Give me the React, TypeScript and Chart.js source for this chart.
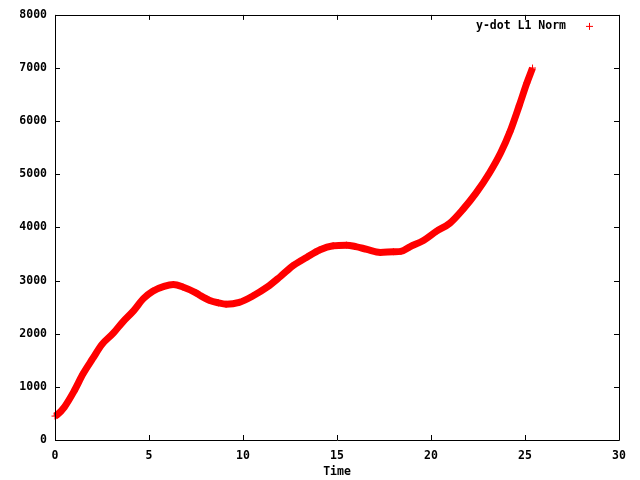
import React, { useEffect, useRef } from "react";
import { Chart, registerables } from "chart.js";

Chart.register(...registerables);

const seriesLabel = "y-dot L1 Norm";
const xTitle = "Time";
const times = [0, 0.1, 0.5, 1.0, 1.5, 2.0, 2.5, 3.1, 3.6, 4.2, 4.7, 5.2, 5.8, 6.3, 6.8, 7.5, 7.7, 8.2, 8.7, 9.1, 9.8, 10.5, 11.3, 12.0, 12.7, 13.4, 14.1, 14.8, 15.5, 16.0, 16.6, 17.3, 18.0, 18.4, 18.9, 19.6, 20.3, 21.0, 21.7, 22.4, 23.1, 23.7, 24.2, 24.7, 25.1, 25.4];
const values = [450, 470, 620, 910, 1250, 1530, 1800, 2010, 2220, 2440, 2660, 2800, 2890, 2925, 2880, 2770, 2725, 2630, 2580, 2556, 2590, 2706, 2880, 3080, 3290, 3440, 3580, 3655, 3667, 3640, 3586, 3530, 3543, 3550, 3640, 3755, 3930, 4080, 4340, 4650, 5020, 5400, 5800, 6300, 6720, 7000];
const xTicks = [0, 5, 10, 15, 20, 25, 30];
const yTicks = [0, 1000, 2000, 3000, 4000, 5000, 6000, 7000, 8000];

const FONT = "'DejaVu Sans Mono', monospace";

const framePlugin = {
  id: "frame",
  afterDraw(chart: any) {
    const ctx = chart.ctx;
    const { left, right, top, bottom } = chart.chartArea;
    const tl = 5;
    ctx.save();
    ctx.strokeStyle = "#000";
    ctx.lineWidth = 1;
    ctx.beginPath();
    ctx.rect(Math.round(left) + 0.5, Math.round(top) + 0.5, Math.round(right - left), Math.round(bottom - top));
    ctx.stroke();
    const xs = chart.scales.x;
    const ys = chart.scales.y;
    ctx.beginPath();
    xTicks.forEach((v) => {
      const px = Math.round(xs.getPixelForValue(v)) + 0.5;
      ctx.moveTo(px, bottom);
      ctx.lineTo(px, bottom - tl);
      ctx.moveTo(px, top);
      ctx.lineTo(px, top + tl);
    });
    yTicks.forEach((v) => {
      const py = Math.round(ys.getPixelForValue(v)) + 0.5;
      ctx.moveTo(left, py);
      ctx.lineTo(left + tl, py);
      ctx.moveTo(right, py);
      ctx.lineTo(right - tl, py);
    });
    ctx.stroke();
    // legend (gnuplot style: text then sample)
    const ly = top + 11;
    const textRight = right - 53;
    ctx.font = "bold 11.5px " + FONT;
    ctx.fillStyle = "#000";
    ctx.textAlign = "right";
    ctx.textBaseline = "middle";
    ctx.fillText(chart.data.datasets[0].label, textRight, ly);
    const cx = right - 29.5;
    ctx.strokeStyle = "#ff0000";
    ctx.beginPath();
    ctx.moveTo(cx - 3.5, ly + 0.5);
    ctx.lineTo(cx + 3.5, ly + 0.5);
    ctx.moveTo(cx, ly - 3);
    ctx.lineTo(cx, ly + 4);
    ctx.stroke();
    ctx.restore();
  },
};

export default function App() {
  const ref = useRef<HTMLCanvasElement | null>(null);
  useEffect(() => {
    if (!ref.current) return;
    const chart = new Chart(ref.current, {
      type: "line",
      data: {
        datasets: [
          {
            label: seriesLabel,
            data: times.map((t, i) => ({ x: t, y: values[i] })),
            borderColor: "#ff0000",
            backgroundColor: "#ff0000",
            borderWidth: 7,
            pointStyle: "cross",
            pointRadius: 3.5,
            pointBorderWidth: 1,
            pointBorderColor: "#ff0000",
            cubicInterpolationMode: "monotone",
            clip: 6,
          } as any,
        ],
      },
      options: {
        responsive: false,
        animation: false,
        layout: { padding: { top: 13, right: 21, left: 0, bottom: 0 } },
        plugins: { legend: { display: false }, tooltip: { enabled: false } },
        scales: {
          x: {
            type: "linear",
            min: 0,
            max: 30,
            afterBuildTicks: (s: any) => {
              s.ticks = xTicks.map((v) => ({ value: v }));
            },
            afterFit: (s: any) => {
              s.height = 40;
            },
            grid: { display: false, drawTicks: false },
            border: { display: false },
            ticks: {
              padding: 9,
              color: "#000",
              maxRotation: 0,
              callback: (v: any) => String(v),
              font: { family: FONT, size: 11.5, weight: "bold" },
            },
            title: {
              display: true,
              text: xTitle,
              color: "#000",
              padding: { top: 0, bottom: 1 },
              font: { family: FONT, size: 11.5, weight: "bold" },
            },
          },
          y: {
            type: "linear",
            min: 0,
            max: 8000,
            afterBuildTicks: (s: any) => {
              s.ticks = yTicks.map((v) => ({ value: v }));
            },
            afterFit: (s: any) => {
              s.width = 55;
            },
            grid: { display: false, drawTicks: false },
            border: { display: false },
            ticks: {
              padding: 8,
              color: "#000",
              callback: (v: any) => String(v),
              font: { family: FONT, size: 11.5, weight: "bold" },
            },
          },
        },
      } as any,
      plugins: [framePlugin],
    });
    return () => chart.destroy();
  }, []);
  return (
    <div style={{ position: "absolute", left: 0, top: 0, width: 640, height: 480, background: "#fff" }}>
      <canvas ref={ref} width={640} height={480} />
    </div>
  );
}
